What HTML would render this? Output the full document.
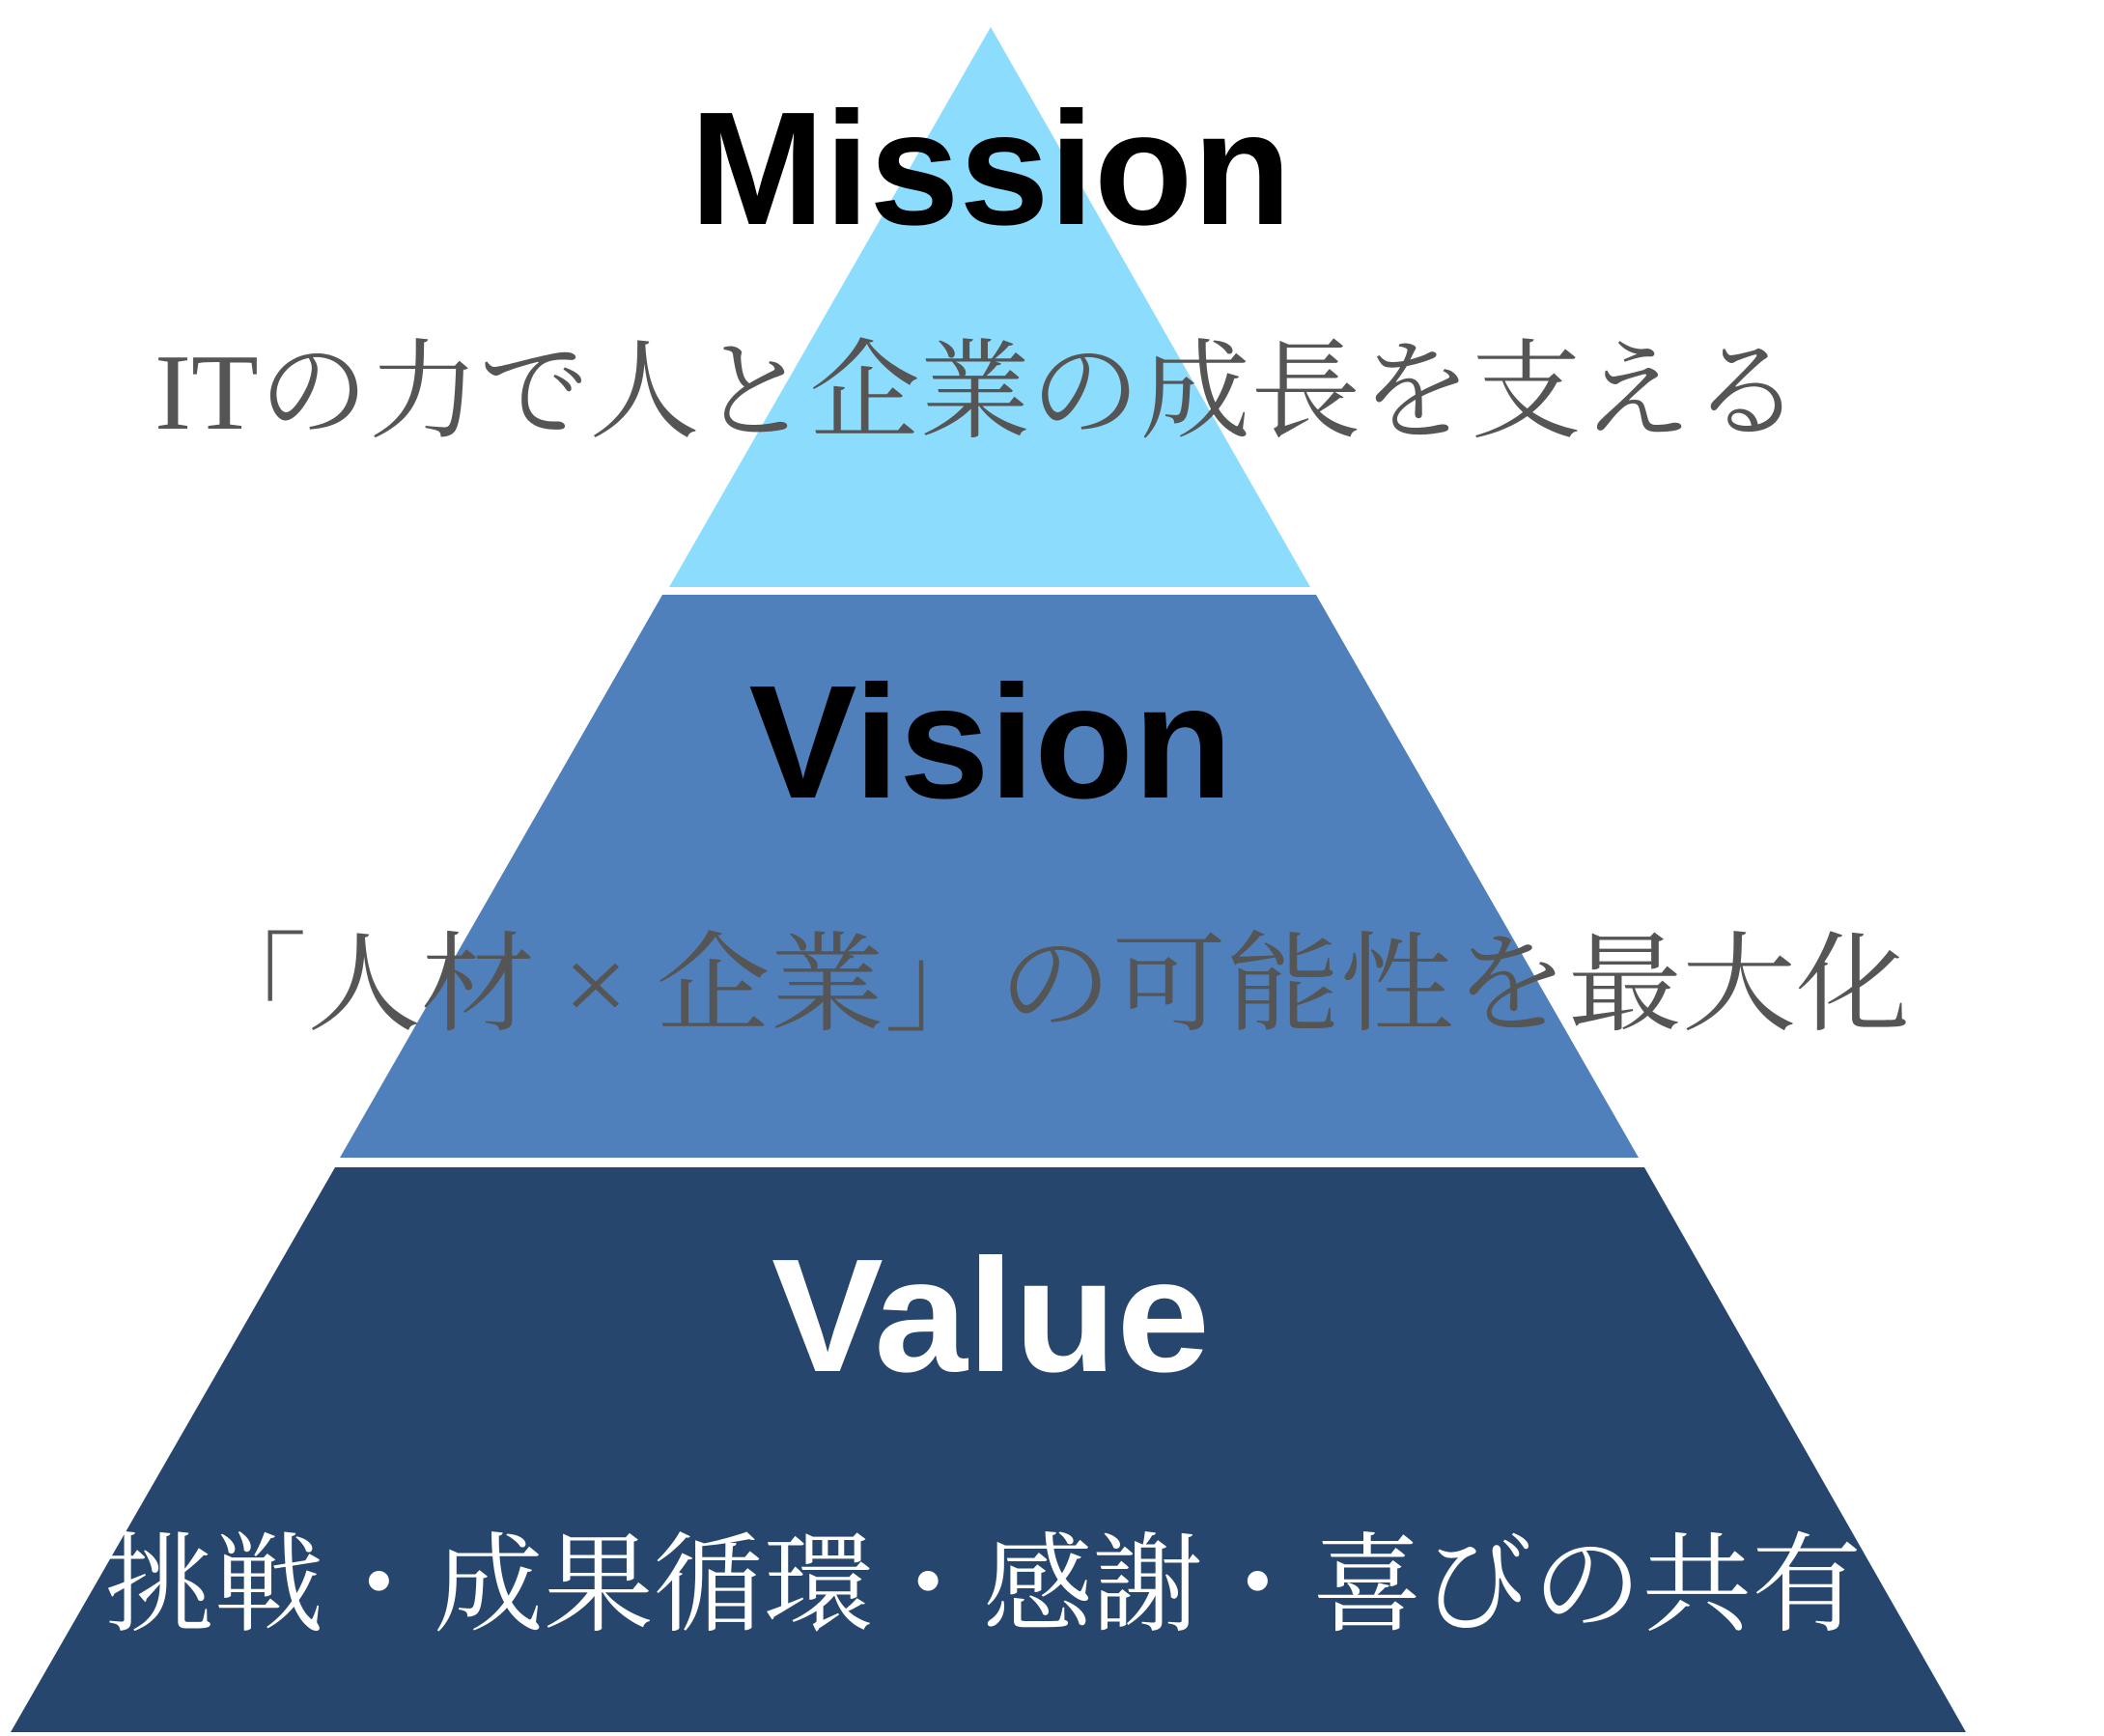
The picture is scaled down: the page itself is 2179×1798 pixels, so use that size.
<!DOCTYPE html>
<html><head><meta charset="utf-8"><style>html,body{margin:0;padding:0;background:#fff}svg{display:block}</style></head>
<body>
<svg width="2179" height="1798" viewBox="0 0 2179 1798" xmlns="http://www.w3.org/2000/svg">
<polygon points="1026,28 1357,608 693,608" fill="#8cdcfe"/>
<polygon points="686,616 1363,616 1697,1199 352,1199" fill="#4f80bb"/>
<polygon points="347,1209 1703,1209 2036,1794 11,1794" fill="#26466e"/>
<text x="1026" y="232" text-anchor="middle" font-family="Liberation Sans, sans-serif" font-weight="bold" font-size="167" fill="#000" textLength="623" lengthAdjust="spacingAndGlyphs">Mission</text>
<text x="1026" y="826" text-anchor="middle" font-family="Liberation Sans, sans-serif" font-weight="bold" font-size="167" fill="#000" textLength="501" lengthAdjust="spacingAndGlyphs">Vision</text>
<text x="1026" y="1420" text-anchor="middle" font-family="Liberation Sans, sans-serif" font-weight="bold" font-size="167" fill="#fff" textLength="454" lengthAdjust="spacingAndGlyphs">Value</text>
<text x="160" y="444" font-family="Liberation Serif, Noto Serif CJK SC, serif" font-size="112" fill="#555" textLength="1706" lengthAdjust="spacingAndGlyphs">ITの力で人と企業の成長を支える</text>
<text x="200" y="1058" font-family="Liberation Serif, Noto Serif CJK SC, serif" font-size="112" fill="#555" textLength="1778" lengthAdjust="spacingAndGlyphs">「人材 × 企業」の可能性を最大化</text>
<text x="108" y="1680" font-family="Liberation Serif, Noto Serif CJK SC, serif" font-size="112" fill="#fff" textLength="1820" lengthAdjust="spacingAndGlyphs">挑戦・成果循環・感謝・喜びの共有</text>
</svg>
</body></html>
